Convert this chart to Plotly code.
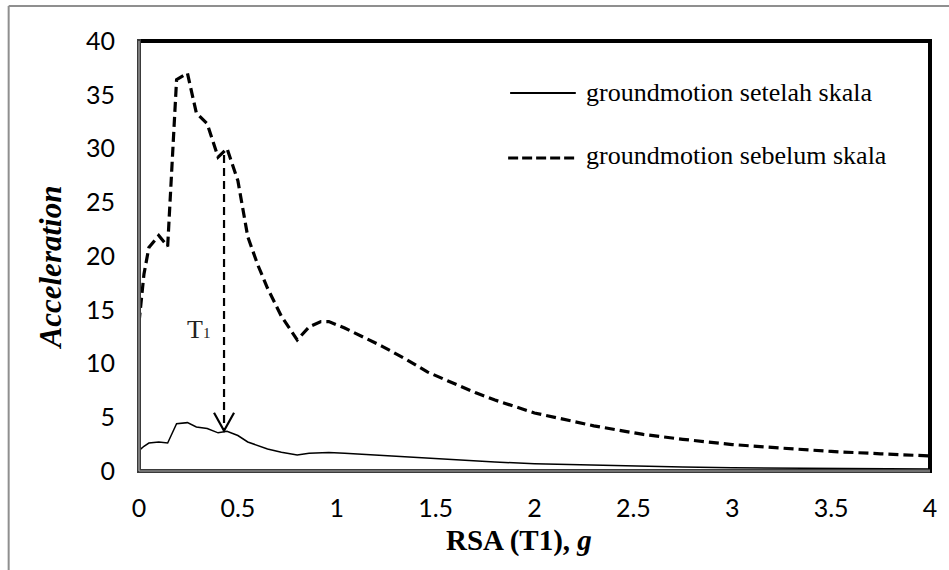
import plotly.graph_objects as go

# ---------------- data ----------------
period = [0, 0.025, 0.05, 0.1, 0.145, 0.19, 0.245, 0.29, 0.345, 0.40, 0.445, 0.5,
          0.55, 0.6, 0.65, 0.72, 0.8, 0.86, 0.92, 0.96, 1.04, 1.13, 1.23, 1.35,
          1.46, 1.56, 1.7, 1.8, 2.0, 2.3, 2.55, 2.75, 3.0, 3.25, 3.5, 3.75, 4.0]

sebelum = [13.8, 18.3, 20.8, 21.9, 20.9, 36.4, 37.0, 33.3, 32.3, 29.2, 30.0, 27.0,
           21.8, 19.2, 17.0, 14.4, 12.2, 13.4, 13.9, 13.9, 13.3, 12.5, 11.6, 10.4,
           9.2, 8.4, 7.3, 6.6, 5.4, 4.2, 3.4, 2.95, 2.46, 2.13, 1.82, 1.6, 1.4]

setelah = [1.9, 2.3, 2.6, 2.7, 2.6, 4.4, 4.5, 4.1, 3.95, 3.55, 3.7, 3.3,
           2.7, 2.35, 2.05, 1.75, 1.5, 1.65, 1.72, 1.72, 1.65, 1.55, 1.43, 1.3,
           1.15, 1.05, 0.92, 0.83, 0.68, 0.53, 0.43, 0.37, 0.31, 0.27, 0.23, 0.2, 0.18]

series_names = ["groundmotion setelah skala", "groundmotion sebelum skala"]

x_ticks = [0, 0.5, 1, 1.5, 2, 2.5, 3, 3.5, 4]
x_tick_labels = ["0", "0.5", "1", "1.5", "2", "2.5", "3", "3.5", "4"]
y_ticks = [0, 5, 10, 15, 20, 25, 30, 35, 40]
y_tick_labels = ["0", "5", "10", "15", "20", "25", "30", "35", "40"]

t1_period = 0.43
t1_arrow_top = 29.4
t1_arrow_tip = 3.74
t1_label_x = 0.30
t1_label_y = 13.2

x_title = "<b>RSA (T1), <i>g</i></b>"
y_title = "<b><i>Acceleration</i></b>"
t1_text = "T<span style='font-size:15px;color:#222222'>1</span>"

# ---------------- figure ----------------
W, H = 949, 570
ML, MR, MT, MB = 139, 15, 41, 99
PW, PH = W - ML - MR, H - MT - MB


def px2paper_x(px):
    return (px - ML) / PW


def px2paper_y(py):
    return (H - MB - py) / PH


SERIF = "Liberation Serif, Times New Roman, serif"
SANS = "Lato, Open Sans, sans-serif"
DASH = "10px,5px"

fig = go.Figure()
fig.add_trace(go.Scatter(x=period, y=setelah, mode="lines", name=series_names[0],
                         line=dict(color="black", width=1.5), showlegend=False))
fig.add_trace(go.Scatter(x=period, y=sebelum, mode="lines", name=series_names[1],
                         line=dict(color="black", width=3.2, dash=DASH), showlegend=False))

shapes = []
# outer grey border (top and left)
shapes.append(dict(type="line", xref="paper", yref="paper",
                   x0=px2paper_x(8), x1=px2paper_x(960), y0=px2paper_y(6), y1=px2paper_y(6),
                   line=dict(color="#8f8f8f", width=2)))
shapes.append(dict(type="line", xref="paper", yref="paper",
                   x0=px2paper_x(8), x1=px2paper_x(8), y0=px2paper_y(6), y1=px2paper_y(590),
                   line=dict(color="#8f8f8f", width=2)))
# plot frame
ex = 2 / PW
ey = 2 / PH
shapes.append(dict(type="line", xref="paper", yref="paper", x0=-ex, x1=1 + ex, y0=1, y1=1,
                   line=dict(color="black", width=4)))
shapes.append(dict(type="line", xref="paper", yref="paper", x0=1, x1=1, y0=-ey, y1=1 + ey,
                   line=dict(color="black", width=4)))
shapes.append(dict(type="line", xref="paper", yref="paper", x0=0, x1=0, y0=-ey, y1=1 + ey,
                   line=dict(color="#3a3a3a", width=4)))
shapes.append(dict(type="line", xref="paper", yref="paper", x0=-ex, x1=1, y0=0, y1=0,
                   line=dict(color="#3a3a3a", width=4)))
shapes.append(dict(type="line", xref="paper", yref="paper", x0=0, x1=0, y0=0, y1=1,
                   line=dict(color="#a8a8a8", width=1.2)))
shapes.append(dict(type="line", xref="paper", yref="paper", x0=0, x1=1, y0=0, y1=0,
                   line=dict(color="#a8a8a8", width=1.2)))
# T1 arrow shaft
shapes.append(dict(type="line", xref="x", yref="y", x0=t1_period, x1=t1_period,
                   y0=t1_arrow_top, y1=t1_arrow_tip,
                   line=dict(color="black", width=2.2, dash="8px,5px")))
# arrowhead (open V)
shapes.append(dict(type="path", xref="x", yref="y", xsizemode="pixel", ysizemode="pixel",
                   xanchor=t1_period, yanchor=t1_arrow_tip,
                   path="M -10,18 L 0,0 L 10,18",
                   line=dict(color="black", width=2.2)))
# legend samples
shapes.append(dict(type="line", xref="paper", yref="paper",
                   x0=px2paper_x(512), x1=px2paper_x(578), y0=px2paper_y(93), y1=px2paper_y(93),
                   line=dict(color="black", width=1.8)))
shapes.append(dict(type="line", xref="paper", yref="paper",
                   x0=px2paper_x(510), x1=px2paper_x(580), y0=px2paper_y(158), y1=px2paper_y(158),
                   line=dict(color="black", width=3.2, dash="10px,4px")))

annotations = [
    dict(xref="paper", yref="paper", x=px2paper_x(586), y=px2paper_y(92), xanchor="left",
         yanchor="middle", text=series_names[0], showarrow=False,
         font=dict(family=SERIF, size=26, color="black")),
    dict(xref="paper", yref="paper", x=px2paper_x(586), y=px2paper_y(155), xanchor="left",
         yanchor="middle", text=series_names[1], showarrow=False,
         font=dict(family=SERIF, size=26, color="black")),
    dict(xref="x", yref="y", x=t1_label_x, y=t1_label_y, text=t1_text, showarrow=False,
         xanchor="center", yanchor="middle", font=dict(family=SERIF, size=26, color="#222222")),
    dict(xref="paper", yref="paper", x=px2paper_x(521), y=px2paper_y(540), xanchor="center",
         yanchor="middle", text=x_title, showarrow=False,
         font=dict(family=SERIF, size=29, color="black")),
    dict(xref="paper", yref="paper", x=px2paper_x(50), y=px2paper_y(267), xanchor="center",
         yanchor="middle", text=y_title, showarrow=False, textangle=-90,
         font=dict(family=SERIF, size=31, color="black")),
]

fig.update_layout(
    width=W, height=H,
    margin=dict(l=ML, r=MR, t=MT, b=MB, pad=0),
    paper_bgcolor="white", plot_bgcolor="white",
    shapes=shapes, annotations=annotations,
    showlegend=False,
    xaxis=dict(range=[0, 4], tickvals=x_ticks, ticktext=x_tick_labels, showgrid=False,
               zeroline=False, showline=False, ticks="", ticklabelstandoff=20,
               tickfont=dict(family=SANS, size=25, color="black"), fixedrange=True),
    yaxis=dict(range=[0, 40], tickvals=y_ticks, ticktext=y_tick_labels, showgrid=False,
               zeroline=False, showline=False, ticks="", ticklabelstandoff=23,
               tickfont=dict(family=SANS, size=25, color="black"), fixedrange=True),
)

fig.write_html("out.html")
